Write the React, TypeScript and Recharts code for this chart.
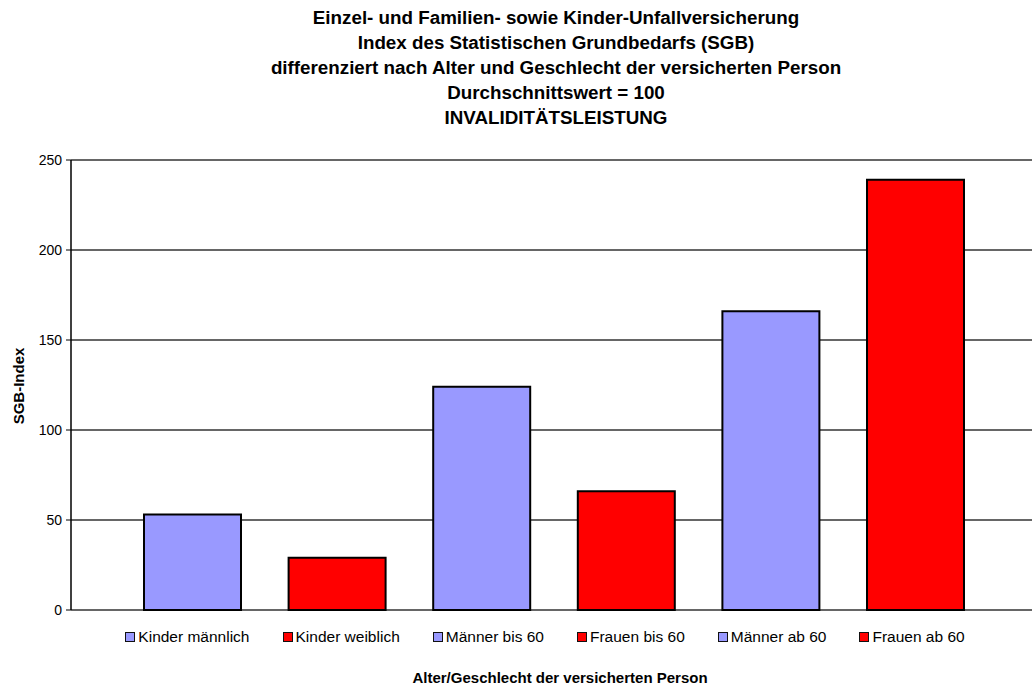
import { BarChart, Bar, XAxis, YAxis, CartesianGrid, Legend } from 'recharts'

const titleLines = [
  'Einzel- und Familien- sowie Kinder-Unfallversicherung',
  'Index des Statistischen Grundbedarfs (SGB)',
  'differenziert nach Alter und Geschlecht der versicherten Person',
  'Durchschnittswert = 100',
  'INVALIDITÄTSLEISTUNG',
]

const seriesNames = [
  'Kinder männlich',
  'Kinder weiblich',
  'Männer bis 60',
  'Frauen bis 60',
  'Männer ab 60',
  'Frauen ab 60',
]
const seriesValues = [53, 29, 124, 66, 166, 239]
const seriesColors = ['#9999FF', '#FF0000', '#9999FF', '#FF0000', '#9999FF', '#FF0000']
const yTicks = [0, 50, 100, 150, 200, 250]

const FONT = '"Liberation Sans", Arial, sans-serif'

// one category holding all six series, like the spreadsheet original
const chartData = [
  {
    group: 'Invalidität',
    ...Object.fromEntries(seriesNames.map((_, i) => [`s${i}`, seriesValues[i]])),
  },
]

function LegendRow() {
  return (
    <div
      style={{
        display: 'flex',
        justifyContent: 'center',
        gap: 33,
        paddingLeft: 58,
        fontFamily: FONT,
        fontSize: 15.5,
        color: '#000',
      }}
    >
      {seriesNames.map((name, i) => (
        <div key={name} style={{ display: 'flex', alignItems: 'center' }}>
          <span
            style={{
              display: 'inline-block',
              width: 8,
              height: 8,
              background: seriesColors[i],
              border: '1.5px solid #111',
              marginRight: 3,
            }}
          />
          <span>{name}</span>
        </div>
      ))}
    </div>
  )
}

export default function App() {
  return (
    <div
      style={{
        position: 'absolute',
        left: 0,
        top: 0,
        width: 1032,
        height: 686,
        background: '#fff',
        fontFamily: FONT,
      }}
    >
      <div
        style={{
          position: 'absolute',
          top: 5,
          left: 0,
          width: 1032,
          paddingLeft: 80,
          boxSizing: 'border-box',
          textAlign: 'center',
          fontWeight: 'bold',
          fontSize: 18.8,
          lineHeight: '25px',
          color: '#000',
        }}
      >
        {titleLines.map((line) => (
          <div key={line}>{line}</div>
        ))}
      </div>

      <BarChart
        width={1032}
        height={686}
        data={chartData}
        margin={{ top: 160, right: -4, bottom: 76, left: 11 }}
        barSize={97}
        barGap={47.6}
      >
        <CartesianGrid vertical={false} stroke="#333" strokeWidth={1.5} />
        <XAxis
          dataKey="group"
          tick={false}
          tickLine={false}
          height={0}
          axisLine={{ stroke: '#000', strokeWidth: 1.5 }}
        />
        <YAxis
          width={60}
          domain={[0, 250]}
          ticks={yTicks}
          interval={0}
          tickSize={5}
          tickMargin={4}
          tick={{ fontSize: 14, fill: '#000', fontFamily: FONT }}
          tickLine={{ stroke: '#000' }}
          axisLine={{ stroke: '#000', strokeWidth: 1.5 }}
        />
        <Legend
          layout="horizontal"
          align="center"
          verticalAlign="middle"
          wrapperStyle={{ top: 628, left: 0, width: 1032, height: 20 }}
          content={() => <LegendRow />}
        />
        {seriesNames.map((name, i) => (
          <Bar
            key={name}
            dataKey={`s${i}`}
            name={name}
            fill={seriesColors[i]}
            stroke="#000"
            strokeWidth={2}
            isAnimationActive={false}
          />
        ))}
      </BarChart>

      <div
        style={{
          position: 'absolute',
          left: 18,
          top: 386,
          transform: 'translate(-50%, -50%) rotate(-90deg)',
          fontWeight: 'bold',
          fontSize: 15,
          whiteSpace: 'nowrap',
          color: '#000',
        }}
      >
        SGB-Index
      </div>

      <div
        style={{
          position: 'absolute',
          left: 560,
          top: 677,
          transform: 'translate(-50%, -50%)',
          fontWeight: 'bold',
          fontSize: 15,
          whiteSpace: 'nowrap',
          color: '#000',
        }}
      >
        Alter/Geschlecht der versicherten Person
      </div>
    </div>
  )
}
